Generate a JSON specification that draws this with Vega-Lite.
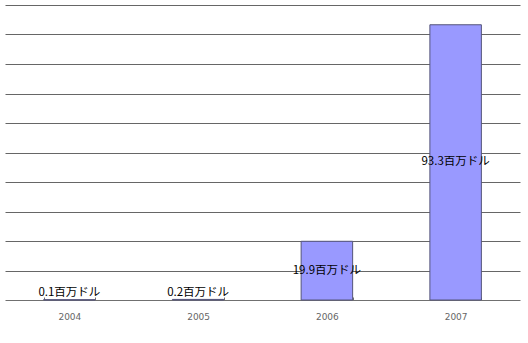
{
  "$schema": "https://vega.github.io/schema/vega-lite/v6.json",
  "width": 515,
  "height": 295,
  "autosize": "none",
  "padding": {"left": 5, "top": 5, "right": 8, "bottom": 43},
  "background": "white",
  "data": {"values": [
    {"year": "2004", "value": 0.1, "label": "0.1百万ドル"},
    {"year": "2005", "value": 0.2, "label": "0.2百万ドル"},
    {"year": "2006", "value": 19.9, "label": "19.9百万ドル"},
    {"year": "2007", "value": 93.3, "label": "93.3百万ドル"}
  ]},
  "config": {"view": {"stroke": null}},
  "encoding": {
    "x": {"field": "year", "type": "nominal", "scale": {"paddingInner": 0.6, "paddingOuter": 0.3},
      "axis": {"title": null, "labelAngle": 0, "labelColor": "#666666", "labelFont": "DejaVu Sans", "labelFontSize": 9, "labelPadding": 15,
        "domainColor": "#707070", "domainWidth": 1, "tickColor": "#707070", "tickBand": "extent", "tickSize": -3}}
  },
  "layer": [
    {
      "mark": {"type": "bar", "color": "#9999FF", "stroke": "#55557a", "strokeWidth": 1},
      "encoding": {
        "y": {"field": "value", "type": "quantitative", "scale": {"domain": [0, 100], "nice": false},
          "axis": {"title": null, "labels": false, "ticks": false, "domain": false, "tickCount": 10, "values": [10,20,30,40,50,60,70,80,90,100], "gridColor": "#666666", "gridWidth": 1, "gridOpacity": 1}}
      }
    },
    {
      "transform": [{"calculate": "max(datum.value / 2, 2.4)", "as": "mid"}],
      "mark": {"type": "text", "font": "Noto Sans CJK JP", "fontSize": 11.5, "color": "black", "baseline": "middle"},
      "encoding": {
        "y": {"field": "mid", "type": "quantitative"},
        "text": {"field": "label"}
      }
    }
  ]
}
